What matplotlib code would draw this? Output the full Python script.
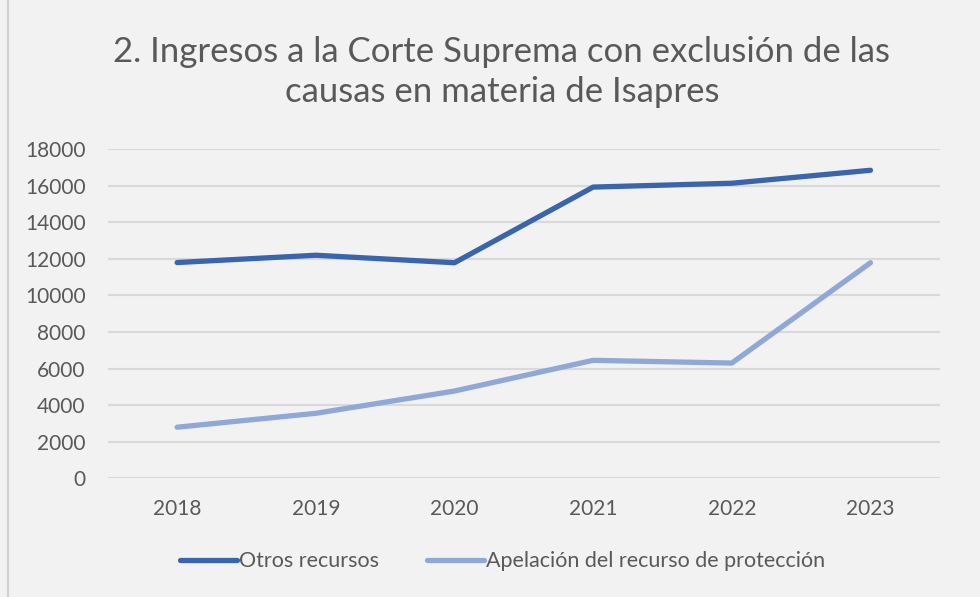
import numpy as np
import matplotlib
matplotlib.use('Agg')
import matplotlib.pyplot as plt
from matplotlib.lines import Line2D

#=========================================================================
years = ['2018', '2019', '2020', '2021', '2022', '2023']
otros = [11800, 12200, 11790, 15930, 16140, 16850]
apelacion = [2790, 3550, 4770, 6450, 6300, 11790]
series_names = ['Otros recursos', 'Apelación del recurso de protección']
yticks = np.arange(0, 18001, 2000)

title = '2. Ingresos a la Corte Suprema con exclusión de las\ncausas en materia de Isapres'

#=========================================================================
plt.rcParams['font.family'] = ['Lato', 'DejaVu Sans']

bg = '#F2F2F2'
txtcol = '#595959'
dark = '#3A64AE'
light = '#8FA8D8'

fig = plt.figure(figsize=(9.8, 5.97), dpi=100, facecolor=bg)
ax = fig.add_axes([0.110, 0.199, 0.849, 0.551])
ax.set_facecolor(bg)

x = np.arange(len(years))
ax.plot(x, otros, color=dark, lw=3.8, solid_capstyle='round', solid_joinstyle='round',
        label=series_names[0], zorder=3)
ax.plot(x, apelacion, color=light, lw=3.8, solid_capstyle='round', solid_joinstyle='round',
        label=series_names[1], zorder=3)

ax.set_xlim(-0.5, len(years) - 0.5)
ax.set_ylim(0, 18000)
ax.set_xticks(x)
ax.set_xticklabels(years)
ax.set_yticks(yticks)
ax.set_yticklabels([str(v) for v in yticks])
ax.tick_params(axis='both', length=0, labelsize=15, labelcolor=txtcol)
ax.tick_params(axis='x', pad=15)
ax.tick_params(axis='y', pad=16)
ax.grid(axis='y', color='#D9D9D9', lw=1.5)
ax.set_axisbelow(True)
for s in ax.spines.values():
  s.set_visible(False)

fig.text(0.512, 0.879, title, ha='center', va='center', fontsize=25,
         color=txtcol, linespacing=1.3)

handles = [Line2D([], [], color=dark, lw=3.8, solid_capstyle='round'),
           Line2D([], [], color=light, lw=3.8, solid_capstyle='round')]
fig.legend(handles, series_names, loc='center', bbox_to_anchor=(0.513, 0.06),
           ncol=2, frameon=False, fontsize=15.5, labelcolor=txtcol,
           handlelength=2.65, handletextpad=0.1, columnspacing=2.2)

fig.add_artist(Line2D([8/980, 8/980], [0, 1], color='#D0D0D0', lw=1.5,
                      transform=fig.transFigure))

plt.savefig('out.png', dpi=100, facecolor=bg)
